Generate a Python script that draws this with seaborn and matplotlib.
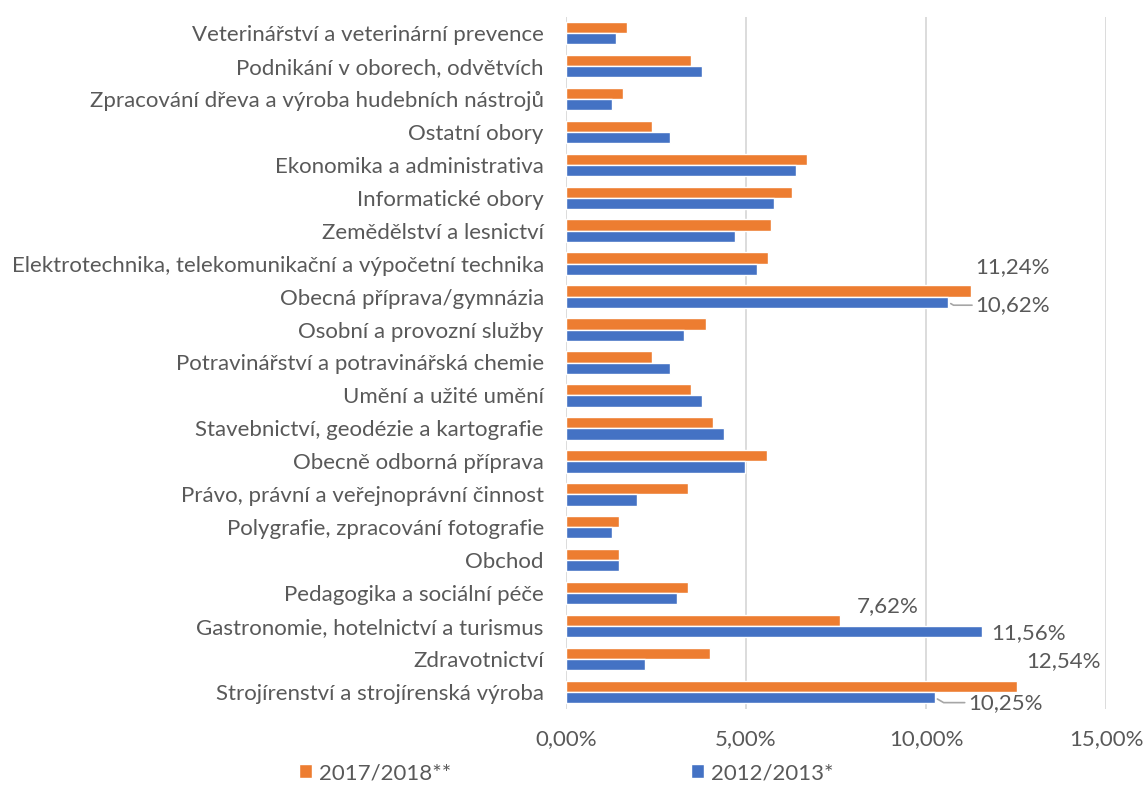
import matplotlib
matplotlib.use("Agg")
import matplotlib.pyplot as plt
from matplotlib.patches import Patch
from matplotlib.ticker import FuncFormatter
import seaborn as sns
import pandas as pd

categories = [
    "Veterinářství a veterinární prevence",
    "Podnikání v oborech, odvětvích",
    "Zpracování dřeva a výroba hudebních nástrojů",
    "Ostatní obory",
    "Ekonomika a administrativa",
    "Informatické obory",
    "Zemědělství a lesnictví",
    "Elektrotechnika, telekomunikační a výpočetní technika",
    "Obecná příprava/gymnázia",
    "Osobní a provozní služby",
    "Potravinářství a potravinářská chemie",
    "Umění a užité umění",
    "Stavebnictví, geodézie a kartografie",
    "Obecně odborná příprava",
    "Právo, právní a veřejnoprávní činnost",
    "Polygrafie, zpracování fotografie",
    "Obchod",
    "Pedagogika a sociální péče",
    "Gastronomie, hotelnictví a turismus",
    "Zdravotnictví",
    "Strojírenství a strojírenská výroba",
]
series_names = ["2017/2018**", "2012/2013*"]
values_2017 = [1.69, 3.48, 1.58, 2.39, 6.69, 6.29, 5.69, 5.60, 11.24, 3.88, 2.39,
               3.48, 4.08, 5.58, 3.39, 1.48, 1.48, 3.39, 7.62, 3.99, 12.54]
values_2012 = [1.39, 3.79, 1.29, 2.89, 6.39, 5.79, 4.69, 5.30, 10.62, 3.29, 2.89,
               3.79, 4.39, 4.98, 1.98, 1.29, 1.48, 3.08, 11.56, 2.19, 10.25]
x_ticks = [0, 5, 10, 15]

ORANGE = "#ED7D31"
BLUE = "#4472C4"
TXT = "#595959"
FS = 16
BW = 0.68

df = pd.DataFrame({
    "obor": categories * 2,
    "podil": values_2017 + values_2012,
    "rok": [series_names[0]] * len(categories) + [series_names[1]] * len(categories),
})

sns.set_theme(style="white")
plt.rcParams["font.family"] = ["Lato", "DejaVu Sans"]

fig = plt.figure(figsize=(11.44, 8.01), dpi=100)
ax = fig.add_axes([566 / 1144, 1 - 708.5 / 801, (1106 - 566) / 1144, (708.5 - 16.5) / 801])

sns.barplot(data=df, y="obor", x="podil", hue="rok", orient="h",
            palette=[ORANGE, BLUE], width=BW, saturation=1, ax=ax,
            legend=False, order=categories, hue_order=series_names)

ax.set_xlim(0, 15)
ax.set_xticks(x_ticks)
ax.xaxis.set_major_formatter(FuncFormatter(lambda v, p: f"{v:.2f}%".replace(".", ",")))
ax.set_xlabel("")
ax.set_ylabel("")
for s in ax.spines.values():
    s.set_visible(False)
ax.grid(axis="x", color="#D9D9D9", linewidth=1.3)
ax.grid(axis="y", visible=False)
ax.set_axisbelow(True)
ax.tick_params(axis="y", length=0, pad=16, labelsize=FS, labelcolor=TXT)
ax.tick_params(axis="x", length=0, pad=15, labelsize=FS, labelcolor=TXT)

# data labels
def label(i, val, off_bar, dx, dy, ha="center", leader=False):
    y = i + off_bar
    kw = dict(xy=(val, y), xytext=(dx, dy), textcoords="offset pixels",
              ha=ha, va="center", fontsize=FS, color=TXT)
    if leader:
        kw["arrowprops"] = dict(arrowstyle="-", color="#A6A6A6", lw=1.2,
                                shrinkA=0, shrinkB=2,
                                connectionstyle="angle,angleA=0,angleB=-30,rad=0")
    ax.annotate(f"{val:.2f}%".replace(".", ","), **kw)

ob = -BW / 4
bb = BW / 4
i_obe = categories.index("Obecná příprava/gymnázia")
i_gas = categories.index("Gastronomie, hotelnictví a turismus")
i_str = categories.index("Strojírenství a strojírenská výroba")
label(i_obe, values_2017[i_obe], ob, 42, 24)
label(i_obe, values_2012[i_obe], bb, 27, -3, ha="left", leader=True)
label(i_gas, values_2017[i_gas], ob, 47, 14)
label(i_gas, values_2012[i_gas], bb, 46, -1)
label(i_str, values_2017[i_str], ob, 46, 25)
label(i_str, values_2012[i_str], bb, 33, -5, ha="left", leader=True)

handles = [Patch(facecolor=ORANGE, label=series_names[0]),
           Patch(facecolor=BLUE, label=series_names[1])]
leg = fig.legend(handles=handles, loc="center", bbox_to_anchor=(0.4948, 1 - 773 / 801),
                 ncol=2, frameon=False, fontsize=FS, handlelength=0.6,
                 handleheight=0.6, handletextpad=0.3, columnspacing=10.8)
for t in leg.get_texts():
    t.set_color(TXT)

fig.savefig("out.png", dpi=100)
